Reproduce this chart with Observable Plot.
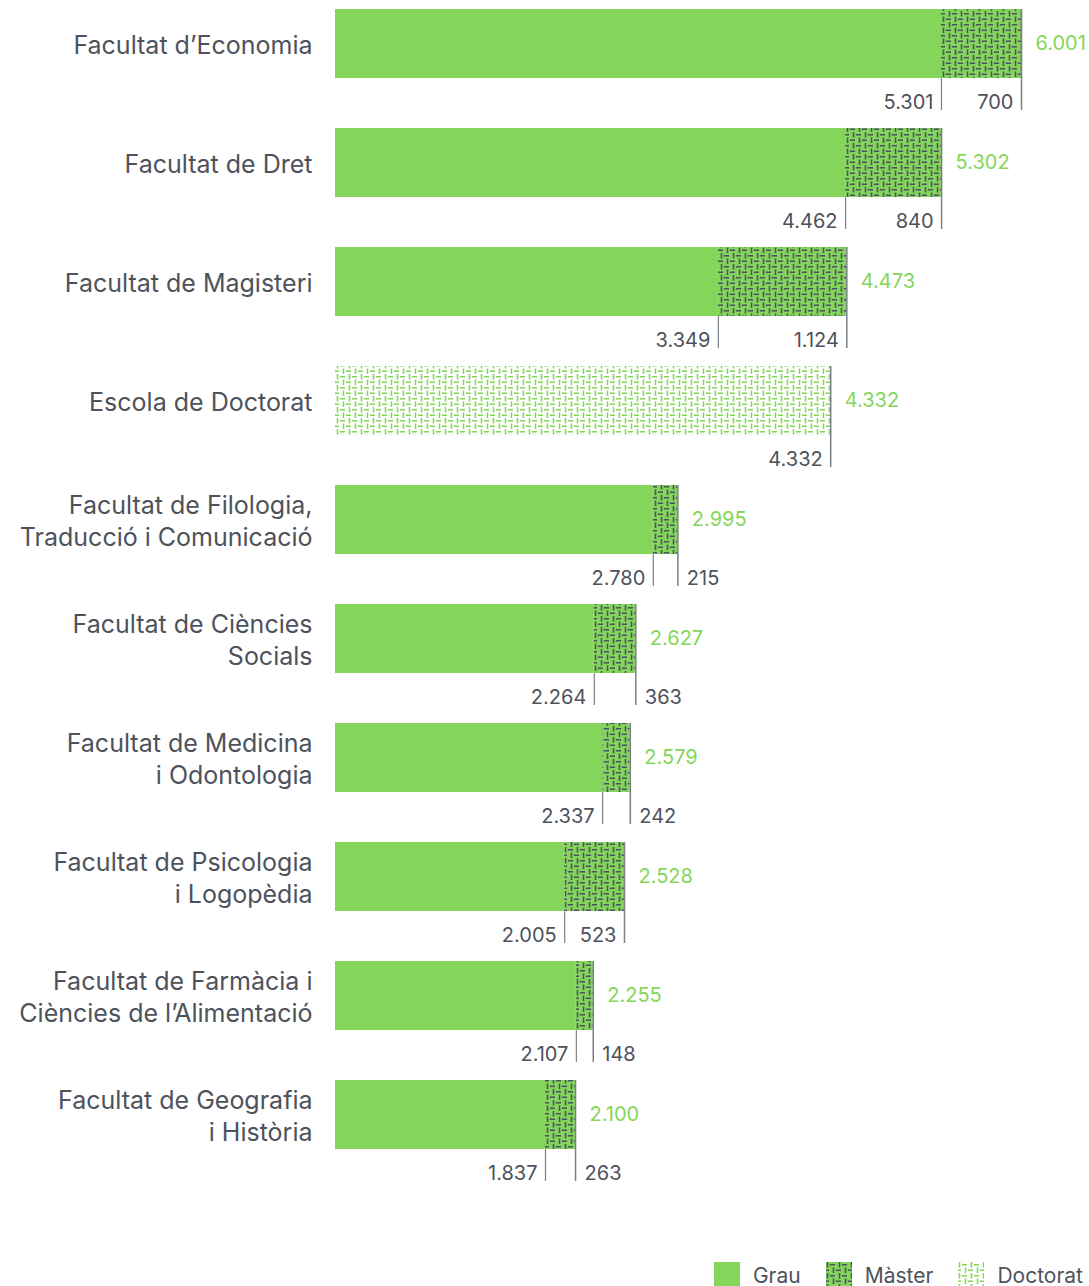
<!DOCTYPE html>
<html><head><meta charset="utf-8">
<script src="https://cdn.jsdelivr.net/npm/d3@7"></script>
<script src="https://cdn.jsdelivr.net/npm/@observablehq/plot@0.6"></script>
<style>
body{margin:0;background:#fff;font-family:Inter,"Noto Sans",sans-serif;}
#chart svg{display:block;}
#legend{display:flex;justify-content:flex-end;align-items:center;height:26px;margin-top:12px;padding-right:6px;color:#4d525c;font-size:21px;}
#legend .item{display:flex;align-items:center;margin-left:25px;}
#legend svg{display:block;margin-right:13px;}
</style></head><body>
<div id="chart"></div>
<div id="legend"></div>
<script>
const categories = ["Facultat d’Economia","Facultat de Dret","Facultat de Magisteri","Escola de Doctorat","Facultat de Filologia,\nTraducció i Comunicació","Facultat de Ciències\nSocials","Facultat de Medicina\ni Odontologia","Facultat de Psicologia\ni Logopèdia","Facultat de Farmàcia i\nCiències de l’Alimentació","Facultat de Geografia\ni Història"];
const grau = [5301,4462,3349,0,2780,2264,2337,2005,2107,1837];
const master = [700,840,1124,0,215,363,242,523,148,263];
const doctorat = [0,0,0,4332,0,0,0,0,0,0];
const seriesNames = ["Grau","Màster","Doctorat"];

const GREEN = "#84d65a", DARK = "#4e5463", TEXT = "#4d525c", LINE = "#7a7e86";
const fmt = d3.formatLocale({decimal:",",thousands:".",grouping:[3],currency:["","€"]}).format(",d");

const rows = categories.map((c,i)=>({cat:c, grau:grau[i], master:master[i], doctorat:doctorat[i], total:grau[i]+master[i]+doctorat[i]}));

const W = 1089, H = 1250, mt = 8, mb = 100, ml = 335, mr = 68;
const pInner = 0.42;
const bw = d3.scaleBand().domain(categories).range([mt, H-mb]).paddingInner(pInner).paddingOuter(0).bandwidth();
const below = bw/2 + 24;
const font = "Inter, 'Noto Sans', sans-serif";

const grauRows = rows.filter(d=>d.grau>0);
const masterRows = rows.filter(d=>d.master>0);
const docRows = rows.filter(d=>d.doctorat>0);

const chart = Plot.plot({
  width: W, height: H,
  marginTop: mt, marginBottom: mb, marginLeft: ml, marginRight: mr,
  style: {fontFamily: font, background: "#fff"},
  x: {domain: [0, d3.max(rows, d=>d.total)], axis: null},
  y: {domain: categories, paddingInner: pInner, paddingOuter: 0, axis: null},
  marks: [
    Plot.barX(grauRows, {y:"cat", x1:0, x2:"grau", fill: GREEN}),
    Plot.barX(masterRows, {y:"cat", x1:"grau", x2:d=>d.grau+d.master, fill: "url(#patMaster)"}),
    Plot.barX(docRows, {y:"cat", x1:d=>d.grau+d.master, x2:"total", fill: "url(#patDoc)"}),
    Plot.tickX(masterRows, {y:"cat", x:"grau", stroke: LINE, strokeWidth:1.2, insetTop: bw, insetBottom: -32}),
    Plot.tickX(rows, {y:"cat", x:"total", stroke: LINE, strokeWidth:1.5, insetBottom: -32}),
    Plot.text(rows, {y:"cat", x:"total", text:d=>fmt(d.total), dx:14, textAnchor:"start", fill: GREEN, fontSize:20}),
    Plot.text(grauRows, {y:"cat", x:"grau", text:d=>fmt(d.grau), dx:-8, dy: below, textAnchor:"end", fill: TEXT, fontSize:20}),
    Plot.text(masterRows.filter(d=>d.master>=450), {y:"cat", x:"total", text:d=>fmt(d.master), dx:-8, dy: below, textAnchor:"end", fill: TEXT, fontSize:20}),
    Plot.text(masterRows.filter(d=>d.master<450), {y:"cat", x:"total", text:d=>fmt(d.master), dx:9, dy: below, textAnchor:"start", fill: TEXT, fontSize:20}),
    Plot.text(docRows, {y:"cat", x:"total", text:d=>fmt(d.doctorat), dx:-8, dy: below, textAnchor:"end", fill: TEXT, fontSize:20}),
    Plot.text(rows, {y:"cat", x:0, text:"cat", dx:-23, textAnchor:"end", fill: TEXT, fontSize:25, lineHeight:1.27})
  ]
});

function addPatterns(svgSel){
  const defs = svgSel.insert("defs", ":first-child");
  const mk = (id, bg, fg) => {
    const p = defs.append("pattern").attr("id", id).attr("patternUnits","userSpaceOnUse").attr("width",12).attr("height",11);
    if (bg) p.append("rect").attr("width",12).attr("height",11).attr("fill",bg);
    const g = p.append("g").attr("stroke",fg).attr("stroke-width",1.6).attr("fill","none");
    g.append("line").attr("x1",1.5).attr("x2",1.5).attr("y1",0).attr("y2",5.5);
    g.append("line").attr("x1",3.8).attr("x2",9).attr("y1",2.75).attr("y2",2.75);
    g.append("line").attr("x1",7.5).attr("x2",7.5).attr("y1",5.5).attr("y2",11);
    g.append("line").attr("x1",9.8).attr("x2",15).attr("y1",8.25).attr("y2",8.25);
    g.append("line").attr("x1",-2.2).attr("x2",3).attr("y1",8.25).attr("y2",8.25);
  };
  mk("patMaster", GREEN, DARK);
  mk("patDoc", null, GREEN);
}
addPatterns(d3.select(chart));
document.getElementById("chart").appendChild(chart);

const legend = d3.select("#legend");
const fills = [GREEN, "url(#patMaster)", "url(#patDoc)"];
seriesNames.forEach((n,i)=>{
  const it = legend.append("div").attr("class","item");
  const s = it.append("svg").attr("width",26).attr("height",26);
  s.append("rect").attr("width",26).attr("height",26).attr("fill",fills[i]);
  it.append("span").text(n);
});
</script>
</body></html>
